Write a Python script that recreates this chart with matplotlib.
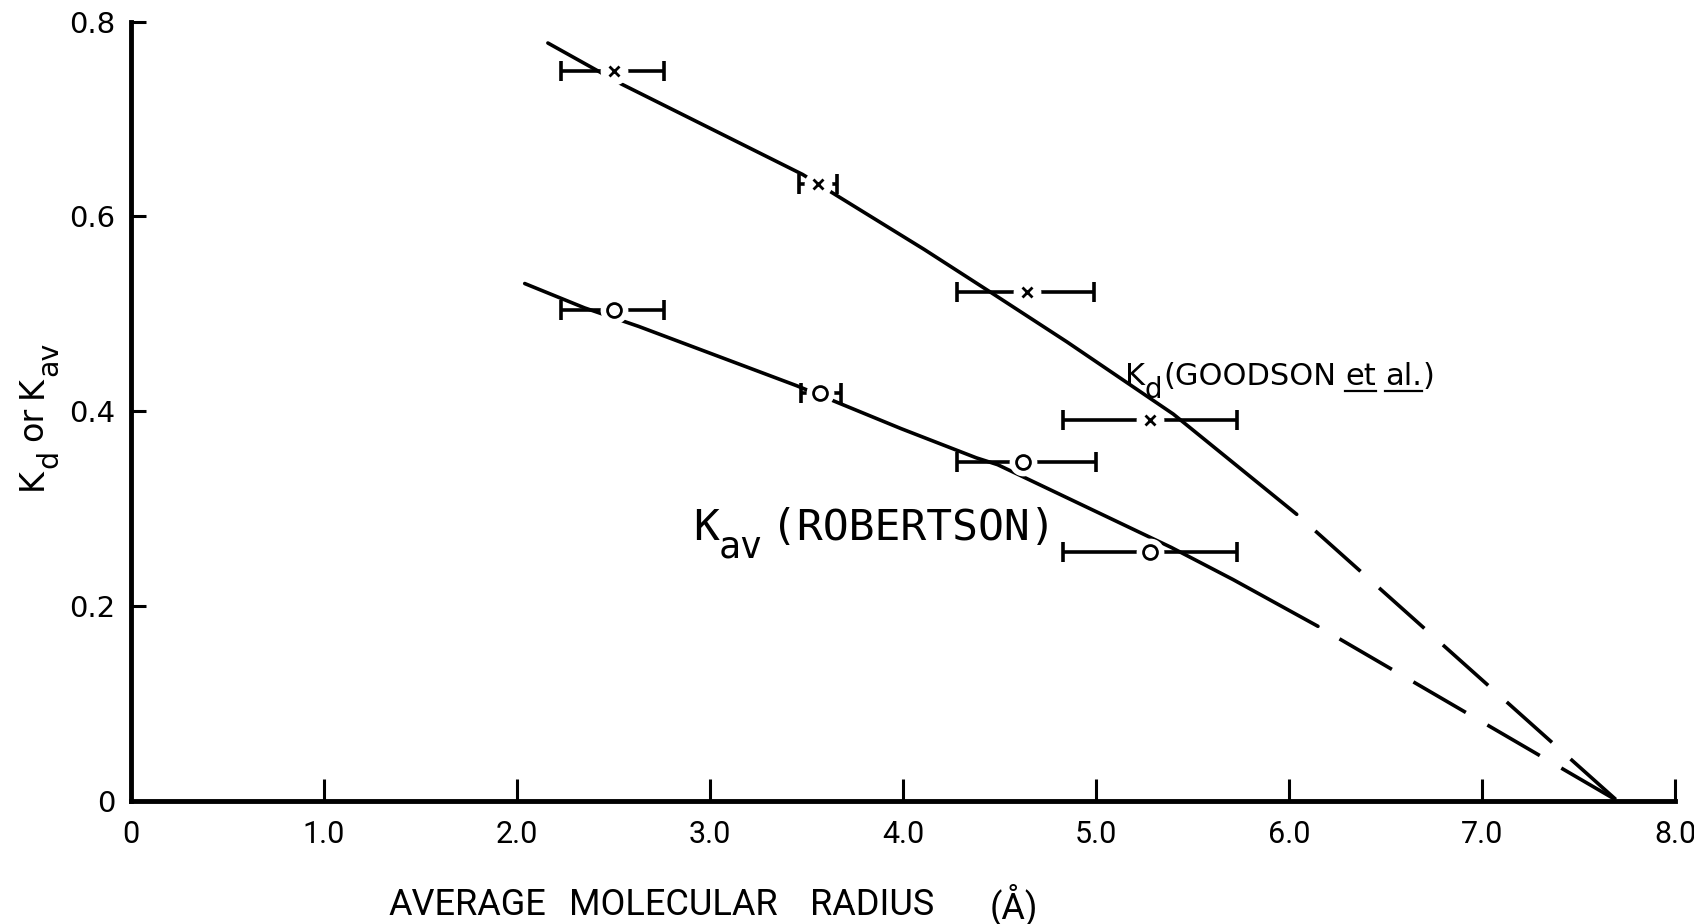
import matplotlib.pyplot as plt
from matplotlib.transforms import IdentityTransform
from matplotlib.lines import Line2D

# Kd (Goodson et al.) points, marker x, with horizontal ranges
kd_r = [2.50, 3.56, 4.64, 5.28]
kd_v = [0.749, 0.633, 0.522, 0.391]
kd_lo = [2.23, 3.46, 4.28, 4.83]
kd_hi = [2.76, 3.66, 4.99, 5.73]

# Kav (Robertson) points, marker o
kav_r = [2.50, 3.57, 4.62, 5.28]
kav_v = [0.504, 0.419, 0.348, 0.255]
kav_lo = [2.23, 3.47, 4.28, 4.83]
kav_hi = [2.76, 3.68, 5.00, 5.73]

# hand drawn curves (solid part, then dashed extrapolation)
kd_curve_x = [2.16, 2.54, 3.48, 4.11, 4.47, 4.85, 5.40, 6.04]
kd_curve_y = [0.778, 0.736, 0.643, 0.566, 0.520, 0.471, 0.397, 0.294]
kd_dash_x = [6.04, 7.70]
kd_dash_y = [0.294, 0.0]

kav_curve_x = [2.04, 2.35, 2.63, 3.45, 3.72, 3.99, 4.38, 4.49, 5.39, 5.71, 6.15]
kav_curve_y = [0.531, 0.506, 0.487, 0.426, 0.404, 0.382, 0.352, 0.345, 0.260, 0.227, 0.179]
kav_dash_x = [6.15, 7.70]
kav_dash_y = [0.179, 0.0]

xticks = [0, 1, 2, 3, 4, 5, 6, 7, 8]
xticklabels = ['0', '1.0', '2.0', '3.0', '4.0', '5.0', '6.0', '7.0', '8.0']
yticks = [0, 0.2, 0.4, 0.6, 0.8]
yticklabels = ['0', '0.2', '0.4', '0.6', '0.8']
xlabel_words = ['AVERAGE', 'MOLECULAR', 'RADIUS', '(Å)']
xlabel_left = [388, 569, 810, 990]  # pixel left edges of each word

W, H = 1694, 924
fig = plt.figure(figsize=(W / 100, H / 100), dpi=100)
ax = fig.add_axes([131 / W, 123.4 / H, (1675 - 131) / W, (800.6 - 21.6) / H])
ax.set_xlim(0, 8)
ax.set_ylim(0, 0.8)

for s in ['top', 'right']:
    ax.spines[s].set_visible(False)
for s in ['left', 'bottom']:
    ax.spines[s].set_linewidth(3.5)

ax.set_xticks(xticks)
ax.set_xticklabels(xticklabels, fontsize=22, fontfamily='Roboto')
ax.set_yticks(yticks)
ax.set_yticklabels(yticklabels, fontsize=21)
ax.tick_params(axis='x', direction='in', length=16, width=2.2, pad=14)
ax.tick_params(axis='y', direction='in', length=11, width=2.2, pad=11)

lw = 2.6
dash = (16.8, (16.8, 6.9))  # start in a gap, finish on a dash at the axis
ax.plot(kd_curve_x, kd_curve_y, color='black', lw=lw, solid_capstyle='round', zorder=2)
ax.plot(kd_dash_x, kd_dash_y, color='black', lw=lw, ls=dash, zorder=2)
ax.plot(kav_curve_x, kav_curve_y, color='black', lw=lw, solid_capstyle='round', zorder=2)
ax.plot(kav_dash_x, kav_dash_y, color='black', lw=lw, ls=dash, zorder=2)

for rs, vs, lo, hi, mk in [(kd_r, kd_v, kd_lo, kd_hi, 'x'), (kav_r, kav_v, kav_lo, kav_hi, 'o')]:
    xerr = [[r - l for r, l in zip(rs, lo)], [h - r for r, h in zip(rs, hi)]]
    ax.errorbar(rs, vs, xerr=xerr, fmt='none', ecolor='black', elinewidth=2.6,
                capsize=7.5, capthick=2.6, zorder=3)
    ax.plot(rs, vs, ls='none', marker='o', ms=20, mfc='white', mec='none', zorder=4)
    if mk == 'x':
        ax.plot(rs, vs, ls='none', marker='x', ms=7, mew=2, color='black', zorder=5)
    else:
        ax.plot(rs, vs, ls='none', marker='o', ms=10, mew=2, mfc='white', mec='black', zorder=5)

fig.canvas.draw()
rend = fig.canvas.get_renderer()


def rich(x, y, parts, size, family='DejaVu Sans'):
    # parts: (text, size scale, vertical offset px, underline, gap after px)
    bx, by = ax.transData.transform((x, y))
    for txt, sc, dy, ul, gap in parts:
        t = fig.text(bx, by + dy, txt, transform=IdentityTransform(), fontsize=size * sc,
                     fontfamily=family, ha='left', va='baseline')
        bb = t.get_window_extent(rend)
        if ul:
            fig.add_artist(Line2D([bb.x0, bb.x1], [by - 6, by - 6], transform=IdentityTransform(),
                                  color='black', lw=1.6))
        bx = bb.x1 + gap


rich(5.15, 0.427, [('K', 1, 0, False, 0), ('d', 0.9, -13, False, 1), ('(GOODSON', 1, 0, False, 9),
                   ('et', 1, 0, True, 9), ('al.', 1, 0, True, 0), (')', 1, 0, False, 0)], 22)
rich(2.91, 0.268, [('K', 1, 0, False, 0), ('av', 0.85, -18, False, 8), ('(ROBERTSON)', 1, 0, False, 0)],
     31, 'DejaVu Sans Mono')

# y axis label, rotated, built bottom to top along a common baseline
base_x, cur = 42, H - 490
for txt, sc, dy in [('K', 1, 0), ('d', 0.85, -15), ('or', 1, 0), ('K', 1, 0), ('av', 0.85, -15)]:
    t = fig.text(base_x - dy, cur, txt, transform=IdentityTransform(), fontsize=24 * sc,
                 rotation=90, ha='left', va='baseline', rotation_mode='anchor')
    bb = t.get_window_extent(rend)
    cur = bb.y1 + (9 if txt in ('d', 'or') else 0)

# x axis label, word by word
for word, left in zip(xlabel_words, xlabel_left):
    fig.text(left, H - 905, word, transform=IdentityTransform(), fontsize=26,
             fontfamily='Roboto', ha='left', va='center')

fig.savefig('out.png', dpi=100)
